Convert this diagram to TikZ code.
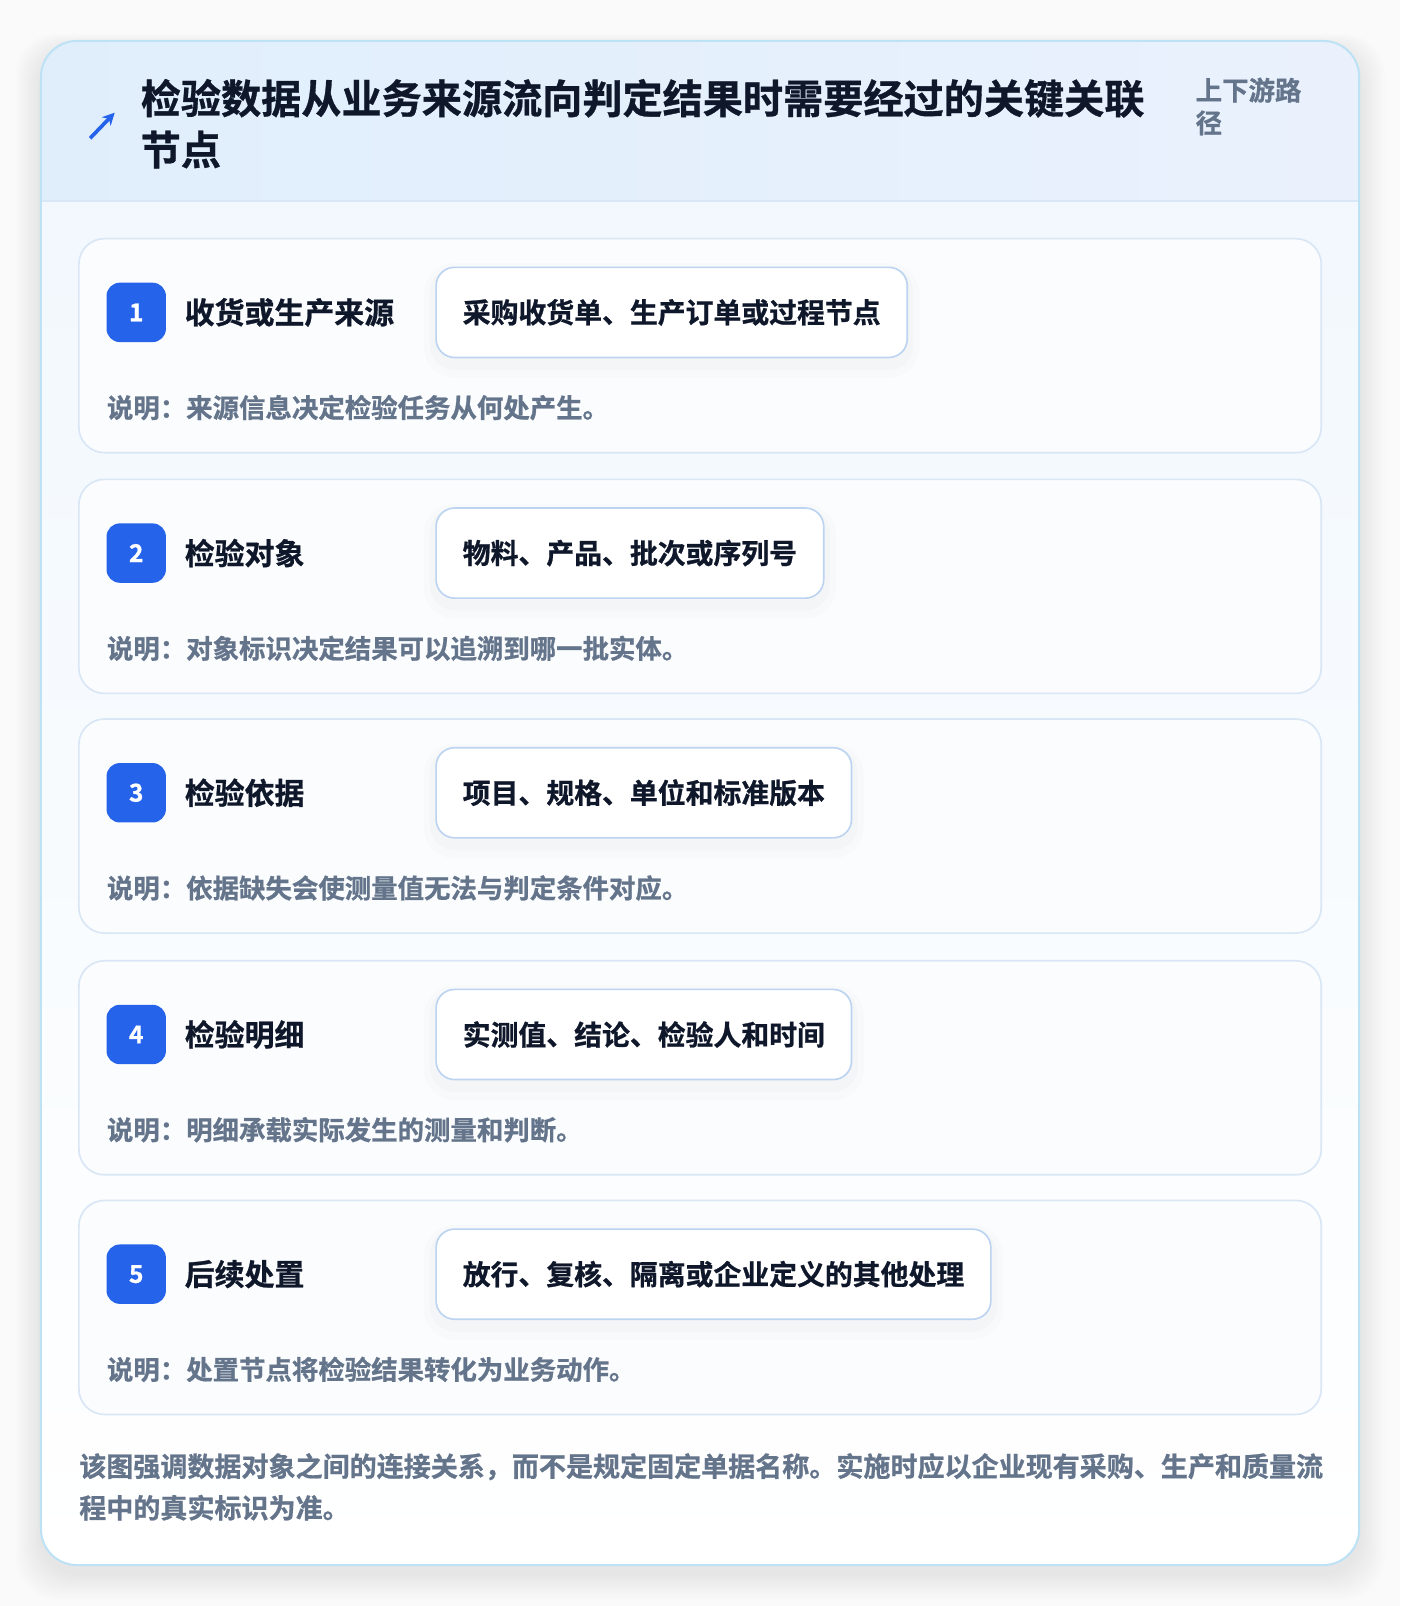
\documentclass[tikz,border=0pt]{standalone}
\usepackage{fontspec}
\setmainfont{Noto Sans CJK SC}[BoldFont={Noto Sans CJK SC Bold},BoldFeatures={FakeBold=0.8}]
\usetikzlibrary{positioning}
\usetikzlibrary{arrows.meta}
\definecolor{ink}{HTML}{0F172A}
\definecolor{muted}{HTML}{64748B}
\definecolor{accent}{HTML}{2563EB}
\definecolor{framec}{HTML}{BDE1F5}
\definecolor{cardline}{HTML}{D9E6F5}
\definecolor{chipline}{HTML}{BCD4F1}
\definecolor{headl}{HTML}{E0EEFC}
\definecolor{headr}{HTML}{EAF1FD}
\definecolor{bodytop}{HTML}{F0F7FD}
\definecolor{cardfill}{HTML}{FAFCFE}
\begin{document}
\begin{tikzpicture}
      [
      x=0.5pt, y=-0.5pt,
      badge/.style={rectangle,rounded corners=6.5pt,fill=accent,text=white,inner sep=0pt,minimum size=29pt,font=\bfseries\fontsize{12}{13}\selectfont},
      steplabel/.style={anchor=west,inner sep=0pt,text=ink,font=\bfseries\fontsize{14.6}{17}\selectfont},
      chip/.style={anchor=west,rectangle,rounded corners=9pt,draw=chipline,line width=0.8pt,fill=white,inner xsep=13pt,inner ysep=0pt,minimum height=44pt,text=ink,font=\bfseries\fontsize{13.6}{16}\selectfont,
        preaction={draw=black,opacity=0.012,line width=12pt,transform canvas={yshift=-4pt}},
        preaction={draw=black,opacity=0.015,line width=6pt,transform canvas={yshift=-3pt}}},
      note/.style={anchor=west,inner sep=0pt,text=muted,font=\bfseries\fontsize{12.9}{15}\selectfont},
      card/.style={rounded corners=12.5pt,draw=cardline,line width=0.8pt,fill=cardfill}
      ]
      \useasboundingbox (0,0) rectangle (1367,1568);
      \fill[white!98!black] (0,0) rectangle (1367,1568);
      % soft shadow of the frame
      \foreach \k in {1,...,10}
        \fill[black,opacity=0.008,rounded corners=20pt] (40-2.5*\k,48-1.5*\k) rectangle (1327+2.5*\k,1536+2.5*\k);
      % frame
      \fill[rounded corners=17.5pt,top color=bodytop,bottom color=white] (40,40) rectangle (1327,1528);
      \begin{scope}
        \clip[rounded corners=17.5pt] (40,40) rectangle (1327,1528);
        \fill[left color=headl,right color=headr] (40,40) rectangle (1327,196);
        \draw[cardline,line width=0.8pt] (40,196) -- (1327,196);
      \end{scope}
      \draw[framec,line width=1pt,rounded corners=17.5pt] (40,40) rectangle (1327,1528);
      % header
      \coordinate (tail) at (88,135);
      \coordinate (tip) at (112,110);
      \draw[accent,line width=1.8pt,-{Stealth[length=6pt,width=6pt]}] (tail) -- (tip);
      \node (title1) at (137,96) [anchor=west,inner sep=0pt,text=ink,font=\bfseries\fontsize{19.6}{24}\selectfont] {检验数据从业务来源流向判定结果时需要经过的关键关联};
      \node (title2) at (137,146) [anchor=west,inner sep=0pt,text=ink,font=\bfseries\fontsize{19.6}{24}\selectfont] {节点};
      \node (tag1) at (1167,88) [note] {上下游路};
      \node (tag2) at (1167,120) [note] {径};
      % steps
      \foreach \n/\top/\name/\item/\desc in {
          1/233/收货或生产来源/采购收货单、生产订单或过程节点/说明：来源信息决定检验任务从何处产生。,
          2/468/检验对象/物料、产品、批次或序列号/说明：对象标识决定结果可以追溯到哪一批实体。,
          3/702/检验依据/项目、规格、单位和标准版本/说明：依据缺失会使测量值无法与判定条件对应。,
          4/938/检验明细/实测值、结论、检验人和时间/说明：明细承载实际发生的测量和判断。,
          5/1172/后续处置/放行、复核、隔离或企业定义的其他处理/说明：处置节点将检验结果转化为业务动作。}
      {
        \draw[card] (77,\top) rectangle (1290,\top+209);
        \node (badge\n) at (133,\top+72) [badge] {\n};
        \node (step\n) at (180,\top+72) [steplabel] {\name};
        \node (chip\n) at (425,\top+72) [chip] {\item};
        \node (note\n) at (104,\top+165) [note] {\desc};
      }
      % footer
      \node (foot1) at (77,1432) [anchor=west,inner sep=0pt,text=muted,font=\bfseries\fontsize{13.2}{16}\selectfont] {该图强调数据对象之间的连接关系，而不是规定固定单据名称。实施时应以企业现有采购、生产和质量流};
      \node (foot2) at (77,1472) [anchor=west,inner sep=0pt,text=muted,font=\bfseries\fontsize{13.2}{16}\selectfont] {程中的真实标识为准。};
    \end{tikzpicture}
\end{document}
